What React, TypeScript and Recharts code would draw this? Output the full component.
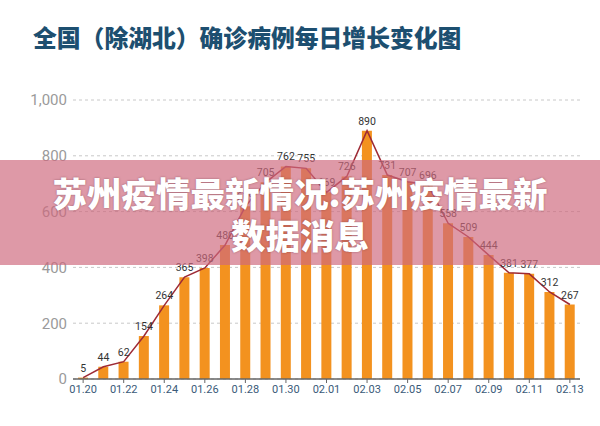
import React from "react";
import { ComposedChart, Bar, Line, XAxis, YAxis, CartesianGrid, LabelList } from "recharts";

const dates = [
  "01.20", "01.21", "01.22", "01.23", "01.24", "01.25", "01.26", "01.27", "01.28", "01.29",
  "01.30", "01.31", "02.01", "02.02", "02.03", "02.04", "02.05", "02.06", "02.07", "02.08",
  "02.09", "02.10", "02.11", "02.12", "02.13",
];
const newCases = [
  5, 44, 62, 154, 264, 365, 398, 480, 619, 705,
  762, 755, 669, 726, 890, 731, 707, 696, 558, 509,
  444, 381, 377, 312, 267,
];
const yTicks = [0, 200, 400, 600, 800, 1000];

const titleText = "全国（除湖北）确诊病例每日增长变化图";
const bannerLine1 = "苏州疫情最新情况:苏州疫情最新";
const bannerLine2 = "数据消息";

const data = dates.map((d, i) => ({ date: d, value: newCases[i] }));

const fmt = (v: number) => v.toLocaleString("en-US");

export default function App() {
  return (
    <div
      style={{
        position: "absolute",
        left: 0,
        top: 0,
        width: 600,
        height: 426,
        background: "#ffffff",
        overflow: "hidden",
        fontFamily: "Roboto, 'Noto Sans', sans-serif",
      }}
    >
      <div
        style={{
          position: "absolute",
          left: 33,
          top: 22,
          fontSize: 23.8,
          fontWeight: 900,
          color: "#1d4f70",
          fontFamily: "'Noto Sans CJK SC', sans-serif",
          whiteSpace: "nowrap",
          lineHeight: "30px",
        }}
      >
        {titleText}
      </div>
      <div style={{ position: "absolute", left: 0, top: 0 }}>
        <ComposedChart
          width={600}
          height={426}
          data={data}
          margin={{ top: 100, right: 20, bottom: 17, left: 0 }}
        >
          <CartesianGrid vertical={false} stroke="#c8c8c8" strokeDasharray="3 3" />
          <XAxis
            dataKey="date"
            interval={1}
            height={30}
            tick={{ fontSize: 11, fill: "#3a5a78" }}
            tickLine={{ stroke: "#666" }}
            tickSize={4}
            axisLine={{ stroke: "#666", strokeWidth: 1.5 }}
          />
          <YAxis
            domain={[0, 1000]}
            ticks={yTicks}
            width={73}
            tickFormatter={fmt}
            axisLine={false}
            tickLine={false}
            tick={{ fontSize: 15, fill: "#9a9a9a" }}
            tickMargin={0}
          />
          <Bar dataKey="value" fill="#f3921f" barSize={10} isAnimationActive={false} />
          <Line
            dataKey="value"
            type="linear"
            stroke="#9e2a35"
            strokeWidth={1.5}
            dot={false}
            isAnimationActive={false}
          >
            <LabelList dataKey="value" position="top" offset={6} style={{ fontSize: 10.5, fill: "#333" }} />
          </Line>
        </ComposedChart>
      </div>
      <div
        style={{
          position: "absolute",
          left: 0,
          top: 160,
          width: 600,
          height: 105,
          background: "rgba(206, 104, 126, 0.68)",
          color: "#ffffff",
          fontFamily: "'Noto Sans CJK SC', sans-serif",
          fontWeight: 900,
          fontSize: 34.5,
          lineHeight: "42px",
          textAlign: "center",
          paddingTop: 11,
          boxSizing: "border-box",
          whiteSpace: "nowrap",
          textShadow: "0 0 2px rgba(80,30,40,0.5)",
        }}
      >
        <div>{bannerLine1}</div>
        <div>{bannerLine2}</div>
      </div>
    </div>
  );
}
